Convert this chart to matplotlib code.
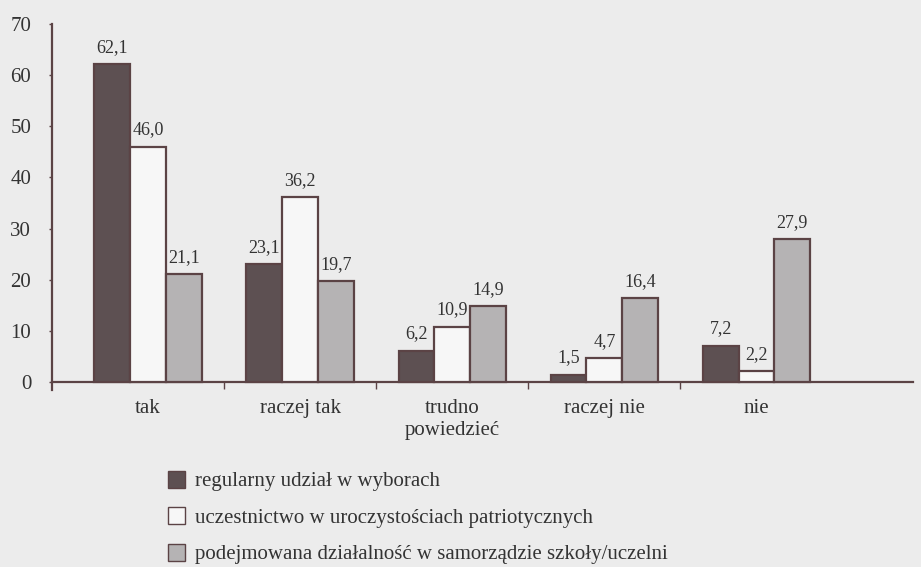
"""
Grouped bar chart: attitudes vs. forms of civic activity (percent).
"""

import matplotlib

matplotlib.use("Agg")
import matplotlib.pyplot as plt
import numpy as np
from matplotlib.patches import Patch

CATEGORIES = ["tak", "raczej tak", "trudno\npowiedzieć", "raczej nie", "nie"]
SERIES_NAMES = [
    "regularny udział w wyborach",
    "uczestnictwo w uroczystościach patriotycznych",
    "podejmowana działalność w samorządzie szkoły/uczelni",
]
WYBORY = [62.1, 23.1, 6.2, 1.5, 7.2]
UROCZYSTOSCI = [46.0, 36.2, 10.9, 4.7, 2.2]
SAMORZAD = [21.1, 19.7, 14.9, 16.4, 27.9]
Y_TICKS = [0, 10, 20, 30, 40, 50, 60, 70]

BG = "#ececec"
EDGE = "#5b4345"
TEXT = "#333333"
FILLS = ["#5d5052", "#f7f7f7", "#b5b3b4"]

plt.rcParams["font.family"] = ["Liberation Serif", "DejaVu Serif"]

fig = plt.figure(figsize=(9.21, 5.67), dpi=100, facecolor=BG)
ax = fig.add_axes([0.0565, 0.312, 0.935, 0.646], facecolor=BG)

x = np.arange(len(CATEGORIES))
width = 0.235
series = [WYBORY, UROCZYSTOSCI, SAMORZAD]
for i, (vals, fill) in enumerate(zip(series, FILLS)):
    pos = x + (i - 1) * width
    bars = ax.bar(pos, vals, width, color=fill, edgecolor=EDGE, linewidth=1.6, zorder=3)
    for b, v in zip(bars, vals):
        ax.annotate(
            f"{v:.1f}".replace(".", ","),
            (b.get_x() + b.get_width() / 2, v),
            xytext=(0, 6),
            textcoords="offset points",
            ha="center",
            va="bottom",
            fontsize=13,
            color=TEXT,
        )

ax.set_xlim(-0.63, 5.03)
ax.set_ylim(-1.5, 70)
ax.set_yticks(Y_TICKS)
ax.tick_params(axis="y", length=2, width=1, color=EDGE, pad=13, labelsize=15, labelcolor=TEXT)

ax.set_xticks(x)
ax.set_xticklabels(CATEGORIES, linespacing=1.3)
ax.tick_params(axis="x", which="major", length=0, pad=12, labelsize=15, labelcolor=TEXT)
ax.set_xticks(x[:-1] + 0.5, minor=True)
ax.tick_params(axis="x", which="minor", length=5, width=1, color=EDGE, direction="out")

for side in ["top", "right"]:
    ax.spines[side].set_visible(False)
ax.spines["bottom"].set_position(("data", 0))
for side in ["left", "bottom"]:
    ax.spines[side].set_color(EDGE)
    ax.spines[side].set_linewidth(1.6)

handles = [Patch(facecolor=f, edgecolor=EDGE, linewidth=1.0) for f in FILLS]
fig.legend(
    handles,
    SERIES_NAMES,
    loc="upper left",
    bbox_to_anchor=(0.182, 0.17),
    frameon=False,
    fontsize=15,
    handlelength=0.85,
    handleheight=0.9,
    handletextpad=0.45,
    labelspacing=0.75,
    borderaxespad=0,
    borderpad=0,
    labelcolor=TEXT,
)

fig.savefig("out.png", dpi=100, facecolor=BG)
